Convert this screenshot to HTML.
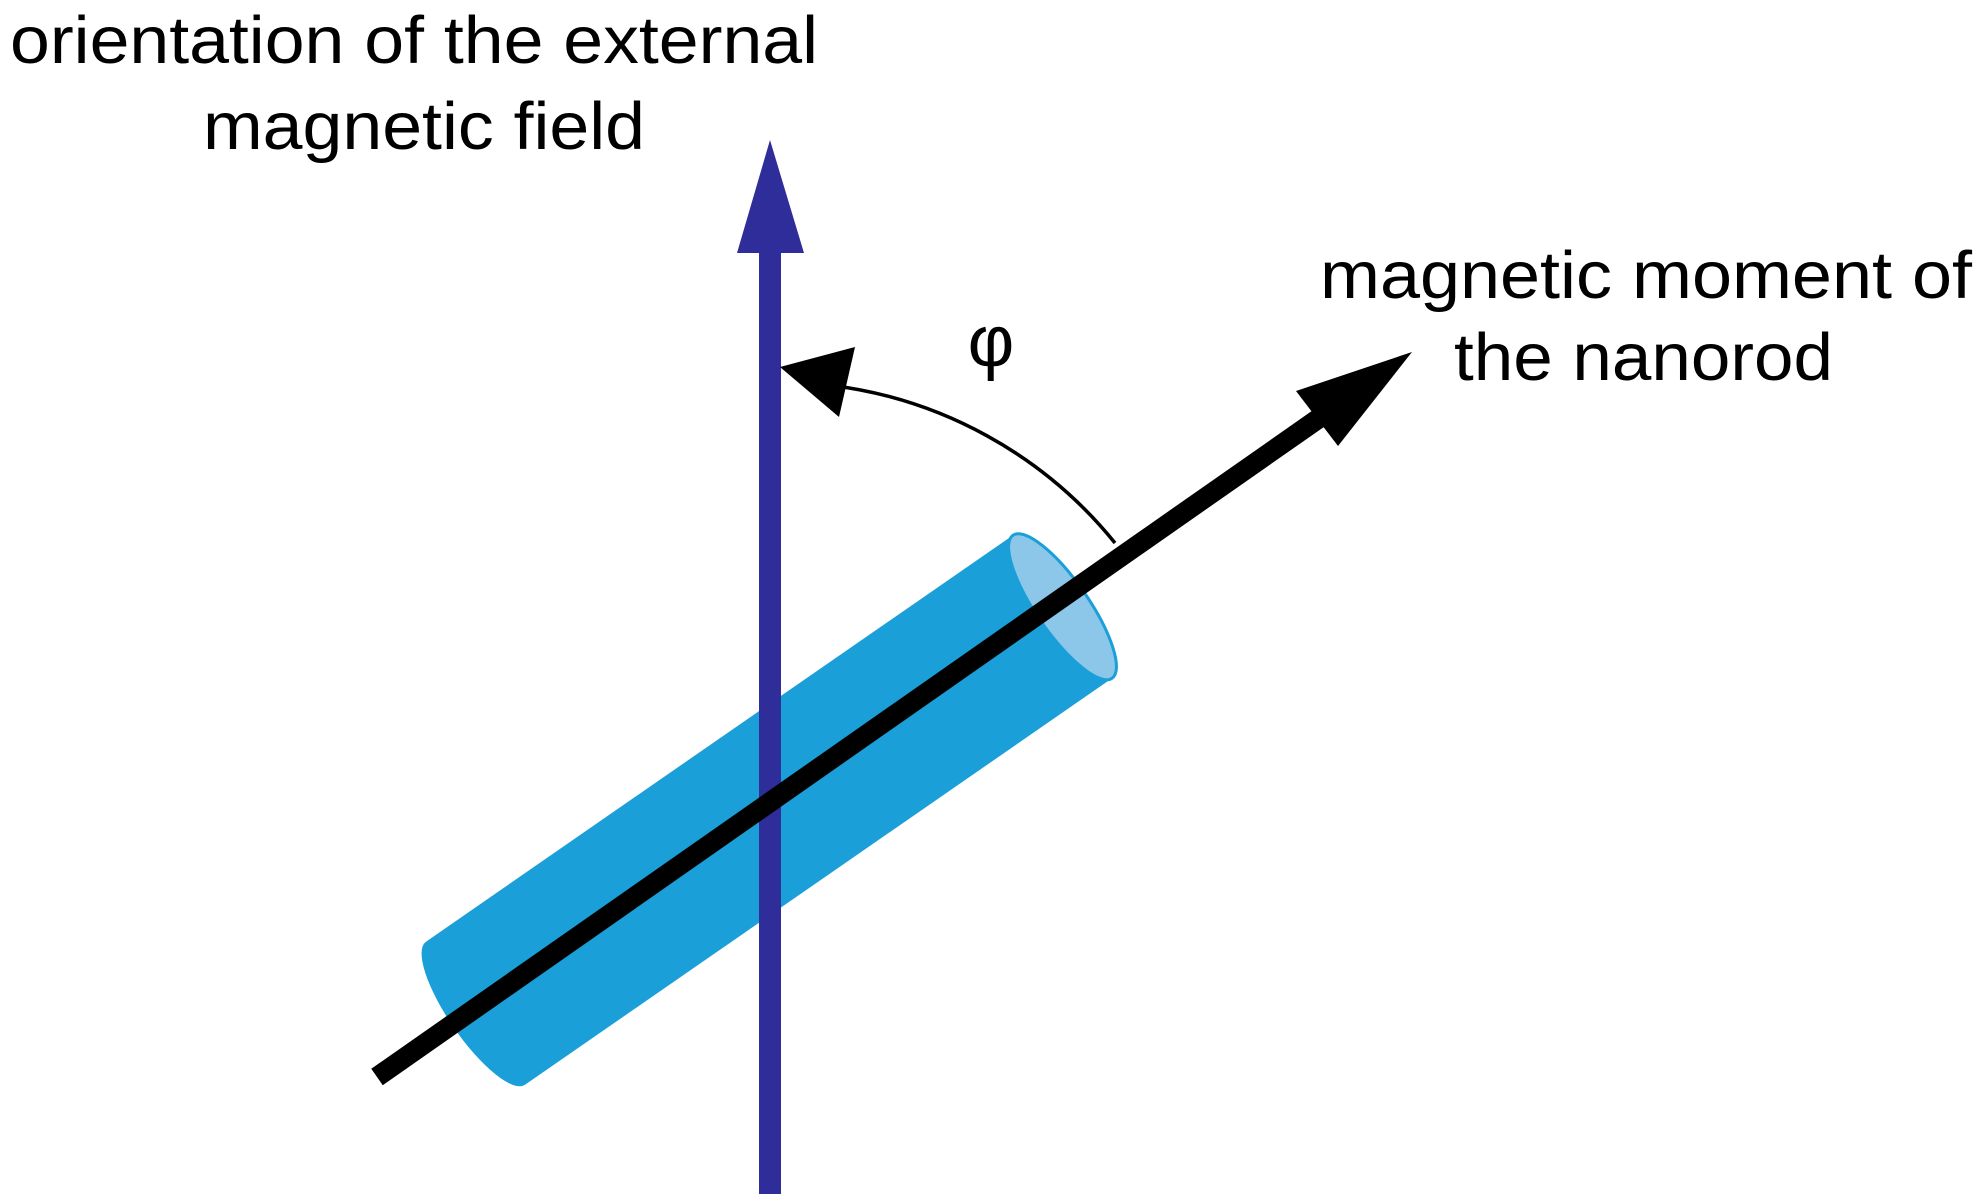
<!DOCTYPE html>
<html><head><meta charset="utf-8"><style>
html,body{margin:0;padding:0;background:#fff;}
svg{display:block;}
text{font-family:"Liberation Sans",Arial,sans-serif;fill:#000;}
</style></head><body>
<svg width="1982" height="1204" viewBox="0 0 1982 1204" xmlns="http://www.w3.org/2000/svg">
<!-- labels -->
<text x="10" y="63" font-size="67" textLength="808" lengthAdjust="spacingAndGlyphs">orientation of the external</text>
<text x="203" y="149" font-size="67" textLength="442" lengthAdjust="spacingAndGlyphs">magnetic field</text>
<text x="1320" y="298" font-size="67" textLength="652" lengthAdjust="spacingAndGlyphs">magnetic moment of</text>
<text x="1454" y="380" font-size="67" textLength="379" lengthAdjust="spacingAndGlyphs">the nanorod</text>
<text x="991" y="366" font-size="72" text-anchor="middle">φ</text>

<!-- cylinder -->
<g transform="translate(769,810) rotate(-34.7)">
  <path d="M-357,-87 L357,-87 A26,87 0 0 1 357,87 L-357,87 A26,87 0 0 1 -357,-87 Z" fill="#1a9fd8"/>
  <ellipse cx="357" cy="0" rx="26" ry="87" fill="#8cc7e9" stroke="#1a9fd8" stroke-width="3"/>
</g>

<!-- blue field arrow -->
<rect x="759" y="245" width="22" height="949" fill="#2f2d9a"/>
<polygon points="770,140 737,253 804,253" fill="#2f2d9a"/>

<!-- black moment arrow -->
<line x1="377" y1="1077" x2="1325" y2="414" stroke="#000" stroke-width="20"/>
<polygon points="1412,352 1296,391 1338,446" fill="#000"/>

<!-- angle arc -->
<path d="M1115,543 A433,433 0 0 0 828,385" fill="none" stroke="#000" stroke-width="3.5"/>
<polygon points="780,367 855,347 839,417" fill="#000"/>
</svg>
</body></html>
